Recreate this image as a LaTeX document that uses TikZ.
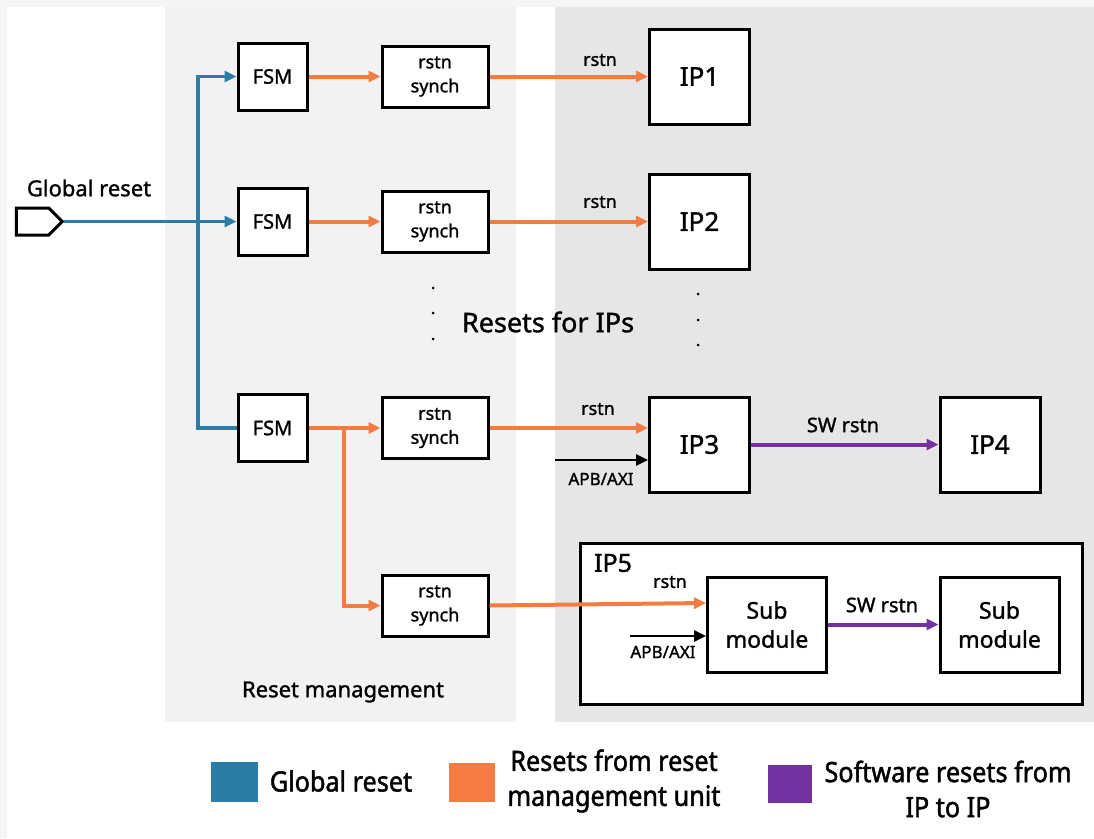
\documentclass[tikz,border=0pt]{standalone}
\usepackage{fontspec}
\setmainfont[FakeBold=1.3]{Noto Sans}
\newfontfamily\legfont[FakeStretch=0.9,FakeBold=1.6]{Noto Sans}
\usetikzlibrary{arrows.meta,shapes.symbols}
\definecolor{gblue}{HTML}{2B7DA6}
\definecolor{rorange}{HTML}{F47C43}
\definecolor{swpurple}{HTML}{7332A0}
\definecolor{panelL}{HTML}{F2F2F2}
\definecolor{panelR}{HTML}{E6E6E6}
\definecolor{frameg}{HTML}{F5F5F5}
\tikzset{
  box/.style={draw=black, line width=3pt, fill=white, inner sep=0pt, align=center},
  fsmbox/.style={box, minimum width=69pt, minimum height=67pt, font=\fontsize{20}{24}\selectfont},
  syncbox/.style={box, minimum width=106pt, minimum height=61pt, font=\fontsize{18}{24}\selectfont},
  ipbox/.style={box, minimum width=100pt, minimum height=95pt, font=\fontsize{26}{30}\selectfont},
  subbox/.style={box, minimum width=119pt, minimum height=95pt, font=\fontsize{23}{29}\selectfont},
  tip/.style={-{Triangle[length=12pt,width=11pt]}},
  blueline/.style={draw=gblue, line width=3.5pt},
  orgline/.style={draw=rorange, line width=4pt},
  purpline/.style={draw=swpurple, line width=4pt},
  blkline/.style={draw=black, line width=2.5pt},
  lbl/.style={inner sep=0pt, font=\fontsize{18}{22}\selectfont},
  legtxt/.style={inner sep=0pt, align=center, font=\legfont\fontsize{28}{35}\selectfont},
  dotm/.style={circle, fill=black, inner sep=0pt, minimum size=3pt}
}
\begin{document}
\begin{tikzpicture}[x=1pt,y=-1pt]
\useasboundingbox (0,0) rectangle (1094,838);
% background
\fill[frameg] (0,0) rectangle (1094,838);
\fill[white] (7,6.5) rectangle (1094,838);
\fill[panelL] (165,6.5) rectangle (516,722);
\fill[panelR] (555,6.5) rectangle (1094,722);

% global reset input
\node[signal, signal to=east, draw=black, line width=3pt, fill=white, inner sep=0pt,
      minimum width=46pt, minimum height=27pt] (gin) at (32.5,221.5) {};
\node[inner sep=0pt, font=\fontsize{22}{26}\selectfont] (glbl) at (89,188) {Global reset};

% FSMs and synchronisers
\node[fsmbox] (fsm1) at (272.5,76.5) {FSM};
\node[fsmbox] (fsm2) at (272.5,221.5) {FSM};
\node[fsmbox] (fsm3) at (272.5,428) {FSM};
\node[syncbox] (syn1) at (435,76.5) {rstn\\synch};
\node[syncbox] (syn2) at (435,221.5) {rstn\\synch};
\node[syncbox] (syn3) at (435,428) {rstn\\synch};
\node[syncbox] (syn4) at (435,605.5) {rstn\\synch};

% IPs
\node[ipbox] (ip1) at (699.5,76.5) {IP1};
\node[ipbox] (ip2) at (699.5,221.5) {IP2};
\node[ipbox] (ip3) at (699.5,444.5) {IP3};
\node[ipbox] (ip4) at (990,444.5) {IP4};

% IP5 container
\node[box, minimum width=502pt, minimum height=161pt] (ip5) at (831,623.5) {};
\node[inner sep=0pt, font=\fontsize{25}{30}\selectfont\bfseries] (ip5l) at (613,563) {IP5};
\node[subbox] (sub1) at (767,624.5) {Sub\\module};
\node[subbox] (sub2) at (999.5,624.5) {Sub\\module};

% blue global reset wiring
\coordinate (j) at (198,221.5);
\draw[blueline, tip] (gin.east) -- (fsm2.west);
\draw[blueline, tip] (fsm3.west) -| (j |- fsm1.west) -- (fsm1.west);

% orange resets
\draw[orgline, tip] (fsm1.east) -- (syn1.west);
\draw[orgline, tip] (fsm2.east) -- (syn2.west);
\draw[orgline, tip] (fsm3.east) -- (syn3.west);
\coordinate (br) at (344,428);
\draw[orgline, tip] (br) |- (syn4.west);
\draw[orgline, tip] (syn1.east) -- (ip1.west);
\draw[orgline, tip] (syn2.east) -- (ip2.west);
\draw[orgline, tip] (syn3.east) -- (syn3.east -| ip3.west);
\coordinate (s1in) at (700,603);
\draw[orgline, tip] (syn4.east) -- (sub1.west |- s1in);

% labels on resets
\node[lbl] (r1) at (600,60) {rstn};
\node[lbl] (r2) at (600,202) {rstn};
\node[lbl] (r3) at (598,409) {rstn};
\node[lbl] (r5) at (670,582) {rstn};

% APB/AXI
\coordinate (apb3) at (555,460);
\draw[blkline, tip] (apb3) -- (apb3 -| ip3.west);
\node[lbl, font=\fontsize{17}{20}\selectfont] (apbl3) at (601,479) {APB/AXI};
\coordinate (apb5) at (630,636);
\draw[blkline, tip] (apb5) -- (apb5 -| sub1.west);
\node[lbl, font=\fontsize{17}{20}\selectfont] (apbl5) at (663,652) {APB/AXI};

% software resets
\draw[purpline, tip] (ip3.east) -- (ip4.west);
\node[lbl, font=\fontsize{20}{24}\selectfont] (sw1) at (843,425) {SW rstn};
\draw[purpline, tip] (sub1.east) -- (sub2.west);
\node[lbl, font=\fontsize{20}{24}\selectfont] (sw2) at (882,605) {SW rstn};

% dots and section labels
\node[dotm] (d1) at (433,288) {};
\node[dotm] (d2) at (433,313) {};
\node[dotm] (d3) at (433,339) {};
\node[dotm] (d4) at (698,294) {};
\node[dotm] (d5) at (698,320) {};
\node[dotm] (d6) at (698,345) {};
\node[inner sep=0pt, font=\fontsize{27}{32}\selectfont] (rip) at (548,322) {Resets for IPs};
\node[inner sep=0pt, font=\fontsize{22}{26}\selectfont] (rmg) at (343,692) {Reset management};

% legend
\fill[gblue] (211,762) rectangle (258,802);
\fill[rorange] (449,763) rectangle (495,802);
\fill[swpurple] (768,765) rectangle (812,803);
\node[legtxt] (lg1) at (341,781) {Global reset};
\node[legtxt] (lg2) at (614,781) {Resets from reset\\management unit};
\node[legtxt] (lg3) at (948,789) {Software resets from\\IP to IP};
\end{tikzpicture}
\end{document}
